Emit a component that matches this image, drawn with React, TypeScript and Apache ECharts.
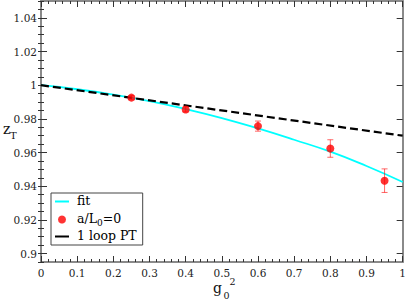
import React, { useEffect, useRef } from "react";
import * as echarts from "echarts";

// ---- data ----
const xTicks = [0, 0.1, 0.2, 0.3, 0.4, 0.5, 0.6, 0.7, 0.8, 0.9, 1];
const yTicks = [0.9, 0.92, 0.94, 0.96, 0.98, 1, 1.02, 1.04];

const gData = [0.25, 0.4, 0.6, 0.8, 0.95];
const zData = [0.9926, 0.9856, 0.9757, 0.9624, 0.9433];
const zErr = [0.0012, 0.0015, 0.003, 0.0052, 0.007];

const fitG = [0, 0.1, 0.2, 0.3, 0.4, 0.5, 0.6, 0.7, 0.8, 0.9, 1];
const fitZ = [1.0, 0.9976, 0.9944, 0.9905, 0.9858, 0.9805, 0.9743, 0.9676, 0.9605, 0.952, 0.9425];

const ptG = [0, 1];
const ptZ = [1.0, 0.97];

const X_MIN = 0;
const X_MAX = 1;
const Y_MIN = 0.895;
const Y_MAX = 1.05;

const FONT = "DejaVu Serif";
const FRAME = "#8a8a8a";
const TICK = "#333";

const fmt = (v: number) => String(Math.round(v * 1000) / 1000);

export default function App() {
  const ref = useRef<HTMLDivElement>(null);

  useEffect(() => {
    document.body.style.margin = "0";
    if (!ref.current) return;
    const chart = echarts.init(ref.current, undefined, { renderer: "svg" });

    const xMajor = (position: "bottom" | "top", labels: boolean) => ({
      type: "value",
      position,
      min: X_MIN,
      max: X_MAX,
      interval: 0.1,
      axisLine: { show: true, onZero: false, lineStyle: { color: FRAME, width: 2 } },
      axisTick: { show: true, inside: true, length: 6, lineStyle: { color: TICK, width: 1 } },
      minorTick: { show: true, splitNumber: 5, length: 3, lineStyle: { color: TICK, width: 1 } },
      axisLabel: {
        show: labels,
        margin: 5,
        fontFamily: FONT,
        fontSize: 10.5,
        color: "#222",
        customValues: xTicks,
        formatter: (v: number) => fmt(v),
      },
      splitLine: { show: false },
      minorSplitLine: { show: false },
    });

    const yMajor = (position: "left" | "right", labels: boolean) => ({
      type: "value",
      position,
      min: Y_MIN,
      max: Y_MAX,
      axisLine: { show: true, onZero: false, lineStyle: { color: FRAME, width: 2 } },
      axisTick: {
        show: true,
        inside: true,
        length: 6,
        customValues: yTicks,
        lineStyle: { color: TICK, width: 1 },
      },
      axisLabel: {
        show: labels,
        margin: 4,
        fontFamily: FONT,
        fontSize: 10.5,
        color: "#222",
        customValues: yTicks,
        formatter: (v: number) => fmt(v),
      },
      splitLine: { show: false },
    });

    const yMinor = (position: "left" | "right") => ({
      type: "value",
      position,
      min: Y_MIN,
      max: Y_MAX,
      interval: 0.005,
      axisLine: { show: false },
      axisTick: { show: true, inside: true, length: 3, lineStyle: { color: TICK, width: 1 } },
      axisLabel: { show: false },
      splitLine: { show: false },
    });

    const lineIcon = "path://M0,0 H14 V2 H0 Z";

    chart.setOption({
      animation: false,
      backgroundColor: "#fff",
      textStyle: { fontFamily: FONT },
      grid: { left: 41, right: 2, top: 1, bottom: 41, containLabel: false },
      xAxis: [xMajor("bottom", true), xMajor("top", false)],
      yAxis: [yMajor("left", true), yMinor("left"), yMajor("right", false), yMinor("right")],
      legend: {
        orient: "vertical",
        left: 51,
        top: 193,
        padding: [1, 6, 3, 4],
        itemGap: 2,
        itemWidth: 14,
        itemHeight: 8,
        backgroundColor: "#fff",
        borderColor: "#444",
        borderWidth: 1,
        borderRadius: 0,
        data: [
          { name: "fit", icon: lineIcon, itemStyle: { color: "#00ffff" } },
          { name: "a/L0=0", icon: "circle", itemStyle: { color: "#ff0000" } },
          { name: "1 loop PT", icon: lineIcon, itemStyle: { color: "#000" } },
        ],
        formatter: (name: string) =>
          name === "a/L0=0" ? "{t|a/L}{s|0}{t|=0}" : `{t|${name}}`,
        textStyle: {
          fontFamily: FONT,
          fontSize: 12.5,
          color: "#000",
          padding: [0, 0, 0, 3],
          rich: {
            t: { fontFamily: FONT, fontSize: 12.5, lineHeight: 15, verticalAlign: "top", color: "#000" },
            s: {
              fontFamily: FONT,
              fontSize: 9,
              lineHeight: 9,
              padding: [9, 0, 0, 0],
              verticalAlign: "bottom",
              color: "#000",
            },
          },
        },
      },
      graphic: [
        {
          type: "text",
          left: 3,
          top: 122,
          style: { text: "z", fontFamily: FONT, fontSize: 14, fill: "#111" },
        },
        {
          type: "text",
          left: 10,
          top: 130,
          style: { text: "T", fontFamily: FONT, fontSize: 10, fill: "#111" },
        },
        {
          type: "text",
          left: 213,
          top: 281,
          style: { text: "g", fontFamily: FONT, fontSize: 14, fill: "#111" },
        },
        {
          type: "text",
          left: 223.5,
          top: 290,
          style: { text: "0", fontFamily: FONT, fontSize: 9.5, fill: "#111" },
        },
        {
          type: "text",
          left: 229.5,
          top: 276,
          style: { text: "2", fontFamily: FONT, fontSize: 9.5, fill: "#111" },
        },
      ],
      series: [
        {
          name: "fit",
          type: "line",
          xAxisIndex: 0,
          yAxisIndex: 0,
          data: fitG.map((g, i) => [g, fitZ[i]]),
          smooth: true,
          symbol: "none",
          showSymbol: false,
          lineStyle: { color: "#00ffff", width: 1.8 },
          itemStyle: { color: "#00ffff" },
          z: 2,
        },
        {
          name: "1 loop PT",
          type: "line",
          xAxisIndex: 0,
          yAxisIndex: 0,
          data: ptG.map((g, i) => [g, ptZ[i]]),
          symbol: "none",
          showSymbol: false,
          lineStyle: { color: "#000", width: 2.2, type: [8, 4] },
          itemStyle: { color: "#000" },
          z: 3,
        },
        {
          name: "errors",
          type: "custom",
          xAxisIndex: 0,
          yAxisIndex: 0,
          encode: { x: 0, y: [1, 2] },
          data: gData.map((g, i) => [g, zData[i] - zErr[i], zData[i] + zErr[i]]),
          renderItem: (params: any, api: any) => {
            const x = api.value(0);
            const lo = api.coord([x, api.value(1)]);
            const hi = api.coord([x, api.value(2)]);
            const cap = 3;
            const style = { stroke: "rgba(255,0,0,0.6)", lineWidth: 1 };
            return {
              type: "group",
              children: [
                { type: "line", shape: { x1: lo[0], y1: lo[1], x2: hi[0], y2: hi[1] }, style },
                { type: "line", shape: { x1: lo[0] - cap, y1: lo[1], x2: lo[0] + cap, y2: lo[1] }, style },
                { type: "line", shape: { x1: hi[0] - cap, y1: hi[1], x2: hi[0] + cap, y2: hi[1] }, style },
              ],
            };
          },
          z: 4,
        },
        {
          name: "a/L0=0",
          type: "scatter",
          xAxisIndex: 0,
          yAxisIndex: 0,
          data: gData.map((g, i) => [g, zData[i]]),
          symbol: "circle",
          symbolSize: 8,
          itemStyle: { color: "#ff0000" },
          z: 5,
        },
      ],
    });

    return () => chart.dispose();
  }, []);

  return <div ref={ref} style={{ width: 409, height: 303 }} />;
}
